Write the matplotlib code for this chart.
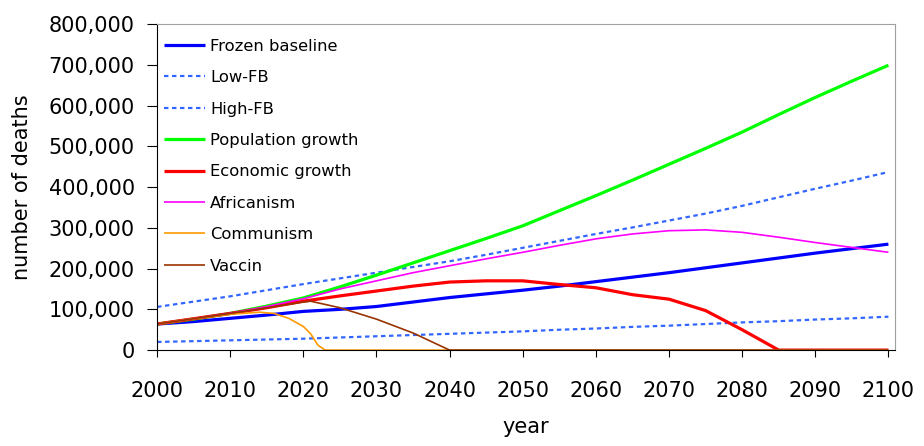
import matplotlib
matplotlib.use('Agg')
import matplotlib.pyplot as plt
from matplotlib.ticker import FuncFormatter

# data (deaths, in thousands)
years = [2000, 2005, 2010, 2015, 2020, 2025, 2030, 2035, 2040, 2045, 2050,
         2055, 2060, 2065, 2070, 2075, 2080, 2085, 2090, 2095, 2100]
frozen = [64, 70, 78, 86, 95, 100, 107, 118, 129, 138, 147,
          157, 168, 179, 190, 202, 214, 226, 238, 249, 260]
low_fb = [20, 22, 24, 26, 28, 31, 34, 37, 40, 43, 46,
          50, 53, 57, 60, 64, 68, 71, 75, 78, 82]
high_fb = [106, 119, 132, 147, 162, 176, 190, 204, 218, 234, 251,
           268, 285, 301, 318, 335, 354, 375, 396, 416, 437]
population = [64, 76, 90, 108, 128, 155, 184, 214, 244, 274, 305,
              342, 379, 417, 456, 495, 535, 578, 620, 660, 699]
economic = [64, 77, 90, 104, 120, 133, 145, 157, 167, 170, 170,
            161, 153, 136, 125, 97, 50, 0, 0, 0, 0]
africanism = [64, 77, 90, 107, 126, 150, 170, 190, 207, 224, 240,
              257, 273, 285, 293, 295, 289, 277, 264, 252, 240]

comm_years = [2000, 2005, 2010, 2014, 2016, 2018, 2020, 2021, 2022, 2023, 2100]
communism = [64, 77, 88, 93, 90, 78, 58, 40, 12, 0, 0]

vac_years = [2000, 2005, 2010, 2015, 2020, 2021, 2025, 2030, 2035, 2040, 2100]
vaccin = [64, 77, 90, 104, 118, 120, 104, 76, 42, 0, 0]

series = [
    ('Frozen baseline', years, frozen, '#0000FF', 2.3, '-'),
    ('Low-FB', years, low_fb, '#3366FF', 1.6, (0, (2, 1.6))),
    ('High-FB', years, high_fb, '#3366FF', 1.6, (0, (2, 1.6))),
    ('Population growth', years, population, '#00FF00', 2.3, '-'),
    ('Economic growth', years, economic, '#FF0000', 2.3, '-'),
    ('Africanism', years, africanism, '#FF00FF', 1.2, '-'),
    ('Communism', comm_years, communism, '#FF9900', 1.2, '-'),
    ('Vaccin', vac_years, vaccin, '#993300', 1.2, '-'),
]

fig = plt.figure(figsize=(9.24, 4.46), dpi=100)
ax = fig.add_axes([0.170, 0.215, 0.7986, 0.731])

for name, xs, ys, color, lw, ls in series:
    ax.plot(xs, [v * 1000 for v in ys], color=color, lw=lw, linestyle=ls,
            label=name, solid_capstyle='butt')

ax.set_xlim(2000, 2100.9)
ax.set_ylim(0, 800000)
ax.set_xticks(range(2000, 2101, 10))
ax.set_yticks(range(0, 800001, 100000))
ax.yaxis.set_major_formatter(FuncFormatter(lambda v, p: f'{int(v):,}'))

ax.tick_params(axis='x', direction='out', length=5, pad=17, labelsize=15)
ax.tick_params(axis='y', direction='out', length=7, pad=9, labelsize=15)

for side in ['top', 'right']:
    ax.spines[side].set_color('#A0A0A0')
for side in ['left', 'bottom']:
    ax.spines[side].set_color('black')

ax.set_xlabel('year', fontsize=15, labelpad=12)
ax.set_ylabel('number of deaths', fontsize=15, labelpad=12)

ax.legend(loc='upper left', bbox_to_anchor=(0.0, 0.975), frameon=False,
          fontsize=11.8, handlelength=2.5, handletextpad=0.35,
          labelspacing=1.0, borderaxespad=0.0)

fig.savefig('out.png', dpi=100)
